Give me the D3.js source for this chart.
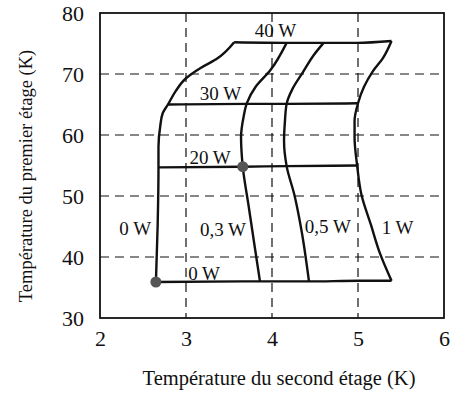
<!DOCTYPE html>
<html>
<head>
<meta charset="utf-8">
<script src="https://cdn.jsdelivr.net/npm/d3@7"></script>
<style>
  body { margin: 0; background: #fff; }
  text { font-family: "Liberation Serif", "Times New Roman", serif; fill: #111; }
</style>
</head>
<body>
<svg id="svgcanvas" width="454" height="396"></svg>
<script>

/****************************************************************************
 *  data
 ****************************************************************************/
var xTicks = [2, 3, 4, 5, 6];
var yTicks = [30, 40, 50, 60, 70, 80];
var xGrid = [3, 4, 5];
var yGrid = [40, 50, 60, 70];

// second stage load curves (nearly vertical), ordered by rising y
var curve0W  = [[2.65, 35.9], [2.67, 45.0], [2.68, 54.7], [2.68, 58.1], [2.70, 61.4],
                [2.73, 63.6], [2.79, 65.0], [2.88, 67.2], [3.00, 69.3], [3.17, 71.0],
                [3.35, 72.4], [3.56, 75.2]];
var curve03W = [[3.86, 36.0], [3.80, 41.6], [3.73, 48.2], [3.66, 54.8], [3.65, 56.4],
                [3.64, 59.7], [3.67, 63.0], [3.71, 65.3], [3.81, 67.9], [3.98, 70.6],
                [4.17, 75.1]];
var curve05W = [[4.43, 36.0], [4.34, 44.6], [4.26, 50.2], [4.17, 54.9], [4.14, 59.0],
                [4.15, 62.2], [4.17, 65.1], [4.24, 67.6], [4.36, 70.3], [4.48, 73.0],
                [4.60, 75.1]];
var curve1W  = [[5.39, 36.1], [5.25, 40.8], [5.15, 45.3], [5.04, 50.2], [4.99, 55.0],
                [4.96, 59.6], [4.96, 62.3], [5.00, 65.2], [5.07, 67.9], [5.17, 70.4],
                [5.29, 72.6], [5.39, 75.4]];

// first stage load lines (nearly horizontal), ordered by rising x
var line0W  = [[2.65, 35.9], [3.86, 36.0], [4.43, 36.0], [5.01, 36.1], [5.39, 36.1]];
var line20W = [[2.68, 54.7], [3.66, 54.8], [4.17, 54.9], [4.99, 55.0]];
var line30W = [[2.79, 65.0], [3.71, 65.1], [4.17, 65.1], [5.00, 65.2]];
var line40W = [[3.56, 75.2], [4.17, 75.1], [4.60, 75.1], [4.99, 75.1], [5.39, 75.4]];

// marked operating points
var points = [[2.65, 35.9], [3.66, 54.8]];

// curve labels, anchored at their centres in data units
var labelText = ["40 W", "30 W", "20 W", "0 W", "0,3 W", "0,5 W", "1 W", "0 W"];
var labelX    = [4.04, 3.40, 3.28, 2.41, 3.43, 4.65, 5.46, 3.21];
var labelY    = [77.1, 66.8, 56.3, 44.7, 44.6, 45.0, 44.8, 37.3];


/****************************************************************************
 *  layout
 ****************************************************************************/
var plotLeft = 100, plotRight = 444, plotTop = 13, plotBottom = 318;

var svg = d3.select("#svgcanvas");

var x = d3.scaleLinear().domain([2, 6]).range([plotLeft, plotRight]);
var y = d3.scaleLinear().domain([30, 80]).range([plotBottom, plotTop]);

// dashed grid
var grid = svg.append('g').attr('id', 'g_grid')
  .attr('stroke', '#111')
  .attr('stroke-width', 1.2)
  .attr('stroke-dasharray', '9,6');

grid.selectAll('line.gx')
  .data(xGrid)
  .enter().append('line')
  .attr('class', 'gx')
  .attr('x1', function(d) { return x(d); })
  .attr('x2', function(d) { return x(d); })
  .attr('y1', plotTop)
  .attr('y2', plotBottom);

grid.selectAll('line.gy')
  .data(yGrid)
  .enter().append('line')
  .attr('class', 'gy')
  .attr('x1', plotLeft)
  .attr('x2', plotRight)
  .attr('y1', function(d) { return y(d); })
  .attr('y2', function(d) { return y(d); });

// frame
svg.append('rect')
  .attr('x', plotLeft)
  .attr('y', plotTop)
  .attr('width', plotRight - plotLeft)
  .attr('height', plotBottom - plotTop)
  .attr('fill', 'none')
  .attr('stroke', '#111')
  .attr('stroke-width', 1.8);

// axes: labels only, no tick marks
var xAxis = svg.append('g')
  .attr('transform', 'translate(0,' + (plotBottom + 12) + ')')
  .call(d3.axisBottom(x).tickValues(xTicks).tickSize(0).tickPadding(0)
        .tickFormat(d3.format('d')));

var yAxis = svg.append('g')
  .attr('transform', 'translate(' + (plotLeft - 16) + ',0)')
  .call(d3.axisLeft(y).tickValues(yTicks).tickSize(0).tickPadding(0)
        .tickFormat(d3.format('d')));

[xAxis, yAxis].forEach(function(a) {
  a.select('.domain').remove();
  a.selectAll('text')
    .attr('fill', '#111')
    .style('font-family', '"Liberation Serif", serif')
    .style('font-size', '22px');
});

// curves: the vertical ones are monotone in y, the horizontal ones in x
var lineV = d3.line()
  .x(function(d) { return x(d[0]); })
  .y(function(d) { return y(d[1]); })
  .curve(d3.curveMonotoneY);

var lineH = d3.line()
  .x(function(d) { return x(d[0]); })
  .y(function(d) { return y(d[1]); })
  .curve(d3.curveMonotoneX);

var vCurves = [curve0W, curve03W, curve05W, curve1W];
var hCurves = [line0W, line20W, line30W, line40W];

var gLines = svg.append('g').attr('id', 'g_lines')
  .attr('fill', 'none')
  .attr('stroke', '#111')
  .attr('stroke-width', 2.4)
  .attr('stroke-linejoin', 'round');

gLines.selectAll('path.v')
  .data(vCurves)
  .enter().append('path')
  .attr('class', 'v')
  .attr('d', lineV);

gLines.selectAll('path.h')
  .data(hCurves)
  .enter().append('path')
  .attr('class', 'h')
  .attr('d', lineH);

// operating points
svg.append('g').attr('id', 'g_circles')
  .selectAll('circle')
  .data(points)
  .enter().append('circle')
  .attr('cx', function(d) { return x(d[0]); })
  .attr('cy', function(d) { return y(d[1]); })
  .attr('r', 5.5)
  .attr('fill', '#555');

// curve labels
svg.append('g').attr('id', 'g_text')
  .selectAll('text')
  .data(labelText)
  .enter().append('text')
  .attr('x', function(d, i) { return x(labelX[i]); })
  .attr('y', function(d, i) { return y(labelY[i]); })
  .attr('dy', '0.35em')
  .attr('text-anchor', 'middle')
  .style('font-size', '19px')
  .text(function(d) { return d; });

// axis titles
svg.append('text')
  .attr('x', (plotLeft + plotRight) / 2 + 7)
  .attr('y', 385)
  .attr('text-anchor', 'middle')
  .style('font-size', '20.5px')
  .text('Température du second étage (K)');

svg.append('text')
  .attr('transform', 'translate(32,176) rotate(-90)')
  .attr('text-anchor', 'middle')
  .style('font-size', '18.5px')
  .text('Température du premier étage (K)');

</script>
</body>
</html>
